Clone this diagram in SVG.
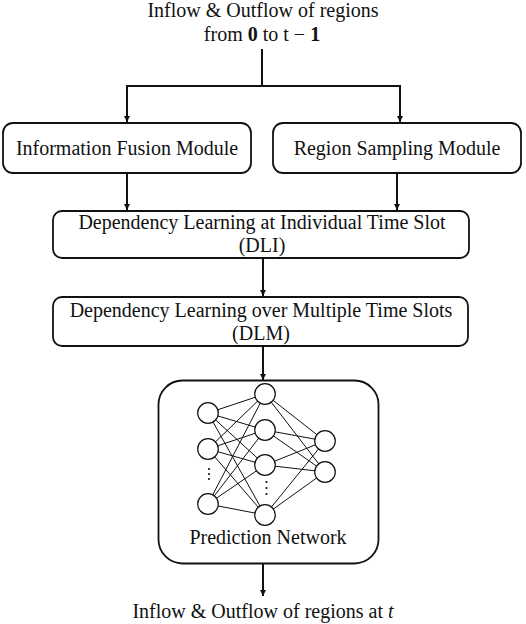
<svg xmlns="http://www.w3.org/2000/svg" width="526" height="624" viewBox="0 0 526 624">
<defs>
<style>
.t{font-family:"Liberation Serif","Times New Roman",serif;font-size:20px;fill:#111;text-anchor:middle}
.box{fill:#fff;stroke:#111;stroke-width:1.8}
.ln{stroke:#111;stroke-width:2;fill:none}
.nn{stroke:#111;stroke-width:1;fill:none}
.neu{fill:#fff;stroke:#111;stroke-width:1.2}
.dot{fill:#111}
</style>
<marker id="ah" viewBox="0 0 10 10" refX="10" refY="5" markerWidth="6" markerHeight="6" markerUnits="userSpaceOnUse" orient="auto">
<path d="M0,0 L10,5 L0,10 z" fill="#111"/>
</marker>
</defs>
<rect width="526" height="624" fill="#fff"/>

<g id="input">
<text class="t" x="263" y="17">Inflow &amp; Outflow of regions</text>
<text class="t" x="262" y="41">from <tspan font-weight="bold">0</tspan> to t − <tspan font-weight="bold">1</tspan></text>
</g>

<g id="connectors">
<path class="ln" d="M262,49 V86 M126,86 H401"/>
<path class="ln" d="M127,86 V122" marker-end="url(#ah)"/>
<path class="ln" d="M400,86 V122" marker-end="url(#ah)"/>
<path class="ln" d="M127,173 V210" marker-end="url(#ah)"/>
<path class="ln" d="M397,173 V210" marker-end="url(#ah)"/>
<path class="ln" d="M263,259 V296" marker-end="url(#ah)"/>
<path class="ln" d="M263,347 V380" marker-end="url(#ah)"/>
<path class="ln" d="M263,564 V596" marker-end="url(#ah)"/>
</g>

<g id="fusion">
<rect class="box" x="3" y="123" width="248" height="50" rx="10"/>
<text class="t" x="127" y="155">Information Fusion Module</text>
</g>

<g id="sampling">
<rect class="box" x="273" y="123" width="248" height="50" rx="10"/>
<text class="t" x="397" y="155">Region Sampling Module</text>
</g>

<g id="dli">
<rect class="box" x="53" y="211" width="416" height="47" rx="9"/>
<text class="t" x="262" y="229">Dependency Learning at Individual Time Slot</text>
<text class="t" x="262" y="252">(DLI)</text>
</g>

<g id="dlm">
<rect class="box" x="53" y="297" width="415" height="49" rx="9"/>
<text class="t" x="261" y="317">Dependency Learning over Multiple Time Slots</text>
<text class="t" x="261" y="340">(DLM)</text>
</g>

<g id="prediction">
<rect class="box" x="158.5" y="380.5" width="220" height="183" rx="24"/>
<g class="nn">
<path d="M208,413 L265,394 M208,413 L265,430 M208,413 L265,465 M208,413 L265,515
M208,449 L265,394 M208,449 L265,430 M208,449 L265,465 M208,449 L265,515
M208,504 L265,394 M208,504 L265,430 M208,504 L265,465 M208,504 L265,515
M265,394 L325,441 M265,394 L325,472 M265,430 L325,441 M265,430 L325,472
M265,465 L325,441 M265,465 L325,472 M265,515 L325,441 M265,515 L325,472"/>
</g>
<circle class="neu" cx="208" cy="413" r="10.3"/>
<circle class="neu" cx="208" cy="449" r="10.3"/>
<circle class="neu" cx="208" cy="504" r="10.3"/>
<circle class="neu" cx="265" cy="394" r="10.3"/>
<circle class="neu" cx="265" cy="430" r="10.3"/>
<circle class="neu" cx="265" cy="465" r="10.3"/>
<circle class="neu" cx="265" cy="515" r="10.3"/>
<circle class="neu" cx="325" cy="441" r="10.3"/>
<circle class="neu" cx="325" cy="472" r="10.3"/>
<circle class="dot" cx="209" cy="469" r="1.1"/>
<circle class="dot" cx="209" cy="474" r="1.1"/>
<circle class="dot" cx="209" cy="479" r="1.1"/>
<circle class="dot" cx="266.5" cy="482" r="1.1"/>
<circle class="dot" cx="266.5" cy="488" r="1.1"/>
<circle class="dot" cx="266.5" cy="494" r="1.1"/>
<text class="t" x="268" y="544">Prediction Network</text>
</g>

<g id="output">
<text class="t" x="263" y="618">Inflow &amp; Outflow of regions at <tspan font-style="italic">t</tspan></text>
</g>
</svg>
